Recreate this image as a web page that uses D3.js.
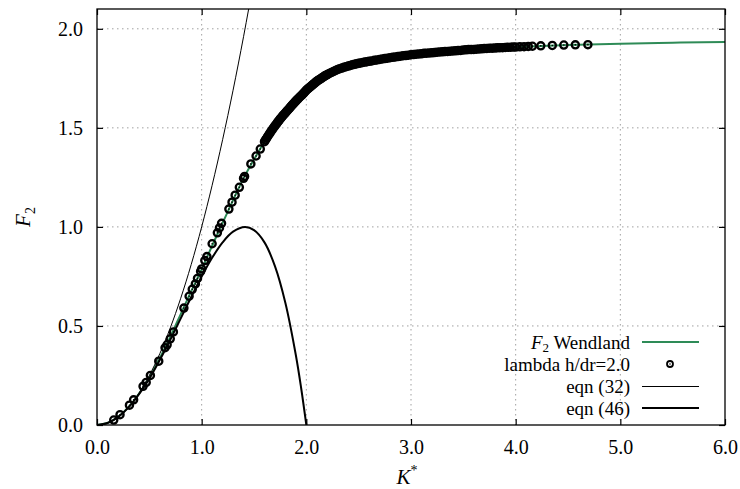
<!DOCTYPE html>
<html>
<head>
<meta charset="utf-8">
<script src="https://cdn.jsdelivr.net/npm/d3@7"></script>
<style>
  body { margin: 0; background: #fff; }
  svg text { font-family: "Liberation Serif", "Times New Roman", "DejaVu Serif", serif; fill: #000; }
  .grid line { stroke: #a0a0a0; stroke-width: 1; stroke-dasharray: 1.5,3.5; }
</style>
</head>
<body>
<svg width="740" height="489"></svg>
<script>
// x ticks and y ticks
var xTicks = [0, 1, 2, 3, 4, 5, 6];
var yTicks = [0, 0.5, 1.0, 1.5, 2.0];

// F2 Wendland curve (K*, F2)
var wendK = [0, 0.1, 0.2, 0.3, 0.4, 0.5, 0.6, 0.7, 0.8, 0.9, 1.0, 1.1, 1.2, 1.3, 1.4, 1.5, 1.6, 1.7, 1.8, 1.9, 2.0, 2.1, 2.2, 2.3, 2.4, 2.5, 2.6, 2.8, 3.0, 3.25, 3.5, 4.0, 4.5, 5.0, 5.5, 6.0];
var wendF = [0, 0.01, 0.04, 0.09, 0.158, 0.24, 0.338, 0.445, 0.56, 0.675, 0.785, 0.905, 1.02, 1.135, 1.245, 1.34, 1.43, 1.51, 1.576, 1.635, 1.69, 1.735, 1.769, 1.795, 1.812, 1.826, 1.836, 1.854, 1.869, 1.882, 1.893, 1.908, 1.918, 1.925, 1.930, 1.934];

// lambda h/dr=2.0 points
var lamK = [0.16, 0.22, 0.31, 0.35, 0.44, 0.47, 0.51, 0.59, 0.65, 0.67, 0.70, 0.73, 0.83, 0.88, 0.91, 0.94, 0.96, 0.99, 1.00, 1.03, 1.05, 1.10, 1.15, 1.17, 1.19, 1.26, 1.29, 1.32, 1.36, 1.40, 1.41, 1.47, 1.52, 1.56,
  1.60, 1.62, 1.64, 1.66, 1.68, 1.70, 1.72, 1.74, 1.76, 1.78, 1.80, 1.82, 1.84, 1.86, 1.88, 1.90, 1.92, 1.94, 1.96, 1.98,
  2.00, 2.02, 2.04, 2.06, 2.08, 2.10, 2.12, 2.14, 2.16, 2.18, 2.20, 2.22, 2.24, 2.26, 2.28, 2.30, 2.32, 2.34, 2.36, 2.38,
  2.40, 2.42, 2.44, 2.46, 2.48, 2.50, 2.52, 2.54, 2.56, 2.58, 2.60,
  2.625, 2.65, 2.675, 2.70, 2.725, 2.75, 2.775, 2.80, 2.825, 2.85, 2.875, 2.90, 2.925, 2.95, 2.975,
  3.00, 3.025, 3.05, 3.075, 3.10, 3.125, 3.15, 3.175, 3.20, 3.225, 3.25, 3.275, 3.30, 3.325, 3.35, 3.375,
  3.40, 3.425, 3.45, 3.475, 3.50, 3.525, 3.55, 3.575, 3.60, 3.625, 3.65, 3.675, 3.70, 3.725, 3.75, 3.775,
  3.80, 3.825, 3.85, 3.875, 3.90, 3.925, 3.95, 3.975, 4.00, 4.04, 4.08, 4.12, 4.16,
  4.24, 4.35, 4.46, 4.57, 4.69];
var lamF = [0.025, 0.052, 0.100, 0.127, 0.195, 0.215, 0.250, 0.322, 0.390, 0.405, 0.435, 0.470, 0.590, 0.650, 0.685, 0.712, 0.740, 0.775, 0.788, 0.830, 0.850, 0.915, 0.970, 0.995, 1.018, 1.090, 1.125, 1.160, 1.200, 1.245, 1.255, 1.318, 1.358, 1.393,
  1.430, 1.447, 1.464, 1.480, 1.495, 1.510, 1.524, 1.538, 1.551, 1.564, 1.576, 1.588, 1.600, 1.612, 1.624, 1.635, 1.646, 1.657, 1.667, 1.678,
  1.690, 1.699, 1.708, 1.717, 1.726, 1.735, 1.742, 1.749, 1.756, 1.763, 1.769, 1.775, 1.780, 1.785, 1.790, 1.795, 1.799, 1.802, 1.806, 1.809,
  1.812, 1.815, 1.818, 1.821, 1.823, 1.826, 1.828, 1.830, 1.832, 1.834, 1.836,
  1.838, 1.841, 1.843, 1.845, 1.848, 1.850, 1.852, 1.854, 1.856, 1.858, 1.860, 1.862, 1.864, 1.865, 1.867,
  1.869, 1.870, 1.872, 1.873, 1.874, 1.876, 1.877, 1.878, 1.879, 1.880, 1.882, 1.883, 1.884, 1.885, 1.886, 1.887,
  1.888, 1.889, 1.890, 1.891, 1.893, 1.894, 1.895, 1.895, 1.896, 1.897, 1.898, 1.899, 1.900, 1.901, 1.902, 1.902,
  1.903, 1.904, 1.905, 1.905, 1.906, 1.907, 1.907, 1.908, 1.908, 1.909, 1.910, 1.911, 1.912,
  1.914, 1.916, 1.918, 1.919, 1.920];
// extra lambda points in the steep dense part
var lamK2 = [1.61, 1.63, 1.65, 1.67, 1.69, 1.71, 1.73, 1.75, 1.77, 1.79, 1.81, 1.83, 1.85, 1.87, 1.89, 1.91, 1.93, 1.95, 1.97, 1.99, 2.01, 2.03, 2.05, 2.07, 2.09, 2.11, 2.13, 2.15, 2.17, 2.19];
var lamF2 = [1.439, 1.456, 1.472, 1.488, 1.503, 1.517, 1.531, 1.545, 1.558, 1.570, 1.582, 1.594, 1.606, 1.618, 1.630, 1.641, 1.652, 1.662, 1.673, 1.684, 1.695, 1.704, 1.713, 1.722, 1.731, 1.739, 1.746, 1.753, 1.760, 1.766];

// eqn (32)
var e32K = [0, 0.1, 0.2, 0.3, 0.4, 0.5, 0.6, 0.7, 0.8, 0.9, 1.0, 1.1, 1.2, 1.3, 1.4, 1.5];
var e32F = [0, 0.01, 0.04, 0.09, 0.16, 0.25, 0.36, 0.49, 0.64, 0.81, 1.0, 1.21, 1.44, 1.69, 1.96, 2.25];

// eqn (46)
var e46K = [0, 0.1, 0.2, 0.3, 0.4, 0.5, 0.6, 0.7, 0.8, 0.9, 1.0, 1.1, 1.2, 1.3, 1.414, 1.5, 1.6, 1.7, 1.8, 1.9, 1.95, 2.0];
var e46F = [0, 0.01, 0.04, 0.088, 0.154, 0.234, 0.328, 0.430, 0.538, 0.646, 0.75, 0.844, 0.922, 0.976, 1.0, 0.984, 0.922, 0.802, 0.616, 0.352, 0.188, 0];

var serif = "Liberation Serif, Times New Roman, DejaVu Serif, serif";

var svg = d3.select("svg"),
    margin = {top: 9, right: 15, bottom: 64, left: 97},
    width = +svg.attr("width") - margin.left - margin.right,
    height = +svg.attr("height") - margin.top - margin.bottom;

var x = d3.scaleLinear().domain([0, 6]).range([0, width]),
    y = d3.scaleLinear().domain([0, 2.1]).range([height, 0]);

var zip = function(a, b) { return a.map(function(v, i) { return [v, b[i]]; }); };

var g = svg.append("g").attr("transform", "translate(" + margin.left + "," + margin.top + ")");

svg.append("defs").append("clipPath").attr("id", "clip")
    .append("rect").attr("width", width).attr("height", height);

// grid
var grid = g.append("g").attr("class", "grid");
grid.selectAll(".gx").data(xTicks.slice(1, -1)).enter().append("line")
    .attr("x1", function(d) { return x(d); }).attr("x2", function(d) { return x(d); })
    .attr("y1", 0).attr("y2", height);
grid.selectAll(".gy").data(yTicks.slice(1)).enter().append("line")
    .attr("y1", function(d) { return y(d); }).attr("y2", function(d) { return y(d); })
    .attr("x1", 0).attr("x2", width);

// axes (ticks inward)
var fmt = d3.format(".1f");
g.append("g").attr("class", "axis").attr("transform", "translate(0," + height + ")")
    .call(d3.axisBottom(x).tickValues(xTicks).tickFormat(fmt).tickSizeInner(-6).tickSizeOuter(0).tickPadding(15));
g.append("g").attr("class", "axis")
    .call(d3.axisTop(x).tickValues(xTicks).tickFormat("").tickSizeInner(-6).tickSizeOuter(0));
g.append("g").attr("class", "axis")
    .call(d3.axisLeft(y).tickValues(yTicks).tickFormat(fmt).tickSizeInner(-6).tickSizeOuter(0).tickPadding(14));
g.append("g").attr("class", "axis").attr("transform", "translate(" + width + ",0)")
    .call(d3.axisRight(y).tickValues(yTicks).tickFormat("").tickSizeInner(-6).tickSizeOuter(0));
g.selectAll(".axis").attr("font-family", serif).attr("font-size", 20);
g.selectAll(".axis .domain").remove();
g.selectAll(".axis line").attr("stroke", "#000").attr("stroke-width", 1.2);

var plot = g.append("g").attr("clip-path", "url(#clip)");
var line = d3.line().curve(d3.curveMonotoneX)
    .x(function(d) { return x(d[0]); }).y(function(d) { return y(d[1]); });

plot.append("path").datum(zip(wendK, wendF)).attr("d", line)
    .attr("fill", "none").attr("stroke", "#2e8b57").attr("stroke-width", 2);

var pts = plot.selectAll(".pt").data(zip(lamK, lamF).concat(zip(lamK2, lamF2))).enter().append("g")
    .attr("transform", function(d) { return "translate(" + x(d[0]) + "," + y(d[1]) + ")"; });
pts.append("circle").attr("r", 3.6).attr("fill", "none").attr("stroke", "#000").attr("stroke-width", 2.3);
pts.append("circle").attr("r", 0.8).attr("fill", "#000");

plot.append("path").datum(zip(e32K, e32F)).attr("d", line)
    .attr("fill", "none").attr("stroke", "#000").attr("stroke-width", 1);
plot.append("path").datum(zip(e46K, e46F)).attr("d", line.curve(d3.curveCatmullRom))
    .attr("fill", "none").attr("stroke", "#000").attr("stroke-width", 2);

// frame
g.append("rect").attr("width", width).attr("height", height)
    .attr("fill", "none").attr("stroke", "#000").attr("stroke-width", 1.3);

// legend
var leg = g.append("g").attr("transform", "translate(" + (630 - margin.left) + "," + (342 - margin.top) + ")");
var rows = ["wend", "lam", "e32", "e46"];
rows.forEach(function(r, i) {
  var row = leg.append("g").attr("transform", "translate(0," + (i * 22) + ")");
  var t = row.append("text").attr("text-anchor", "end").attr("y", 6.5)
      .attr("font-family", serif).attr("font-size", 19);
  if (r === "wend") {
    t.append("tspan").attr("font-style", "italic").text("F");
    t.append("tspan").attr("font-size", 13).attr("dy", 3).text("2");
    t.append("tspan").attr("dy", -3).text(" Wendland");
    row.append("line").attr("x1", 12).attr("x2", 69).attr("stroke", "#2e8b57").attr("stroke-width", 2);
  } else if (r === "lam") {
    t.text("lambda h/dr=2.0");
    row.append("circle").attr("cx", 40).attr("r", 3).attr("fill", "none").attr("stroke", "#000").attr("stroke-width", 1.8);
    row.append("circle").attr("cx", 40).attr("r", 0.8).attr("fill", "#000");
  } else if (r === "e32") {
    t.text("eqn (32)");
    row.append("line").attr("x1", 12).attr("x2", 69).attr("y1", 0.5).attr("y2", 0.5)
        .attr("stroke", "#000").attr("stroke-width", 1);
  } else {
    t.text("eqn (46)");
    row.append("line").attr("x1", 12).attr("x2", 69).attr("stroke", "#000").attr("stroke-width", 2);
  }
});

// axis titles
var xl = svg.append("text").attr("x", margin.left + width / 2 - 4).attr("y", 484)
    .attr("text-anchor", "middle").attr("font-family", serif).attr("font-size", 21);
xl.append("tspan").attr("font-style", "italic").text("K");
xl.append("tspan").attr("font-size", 14).attr("dy", -9).text("*");

var yl = svg.append("text").attr("transform", "translate(30," + (margin.top + height / 2) + ") rotate(-90)")
    .attr("text-anchor", "middle").attr("font-family", serif).attr("font-size", 21);
yl.append("tspan").attr("font-style", "italic").text("F");
yl.append("tspan").attr("font-size", 14).attr("dy", 5).text("2");
</script>
</body>
</html>
